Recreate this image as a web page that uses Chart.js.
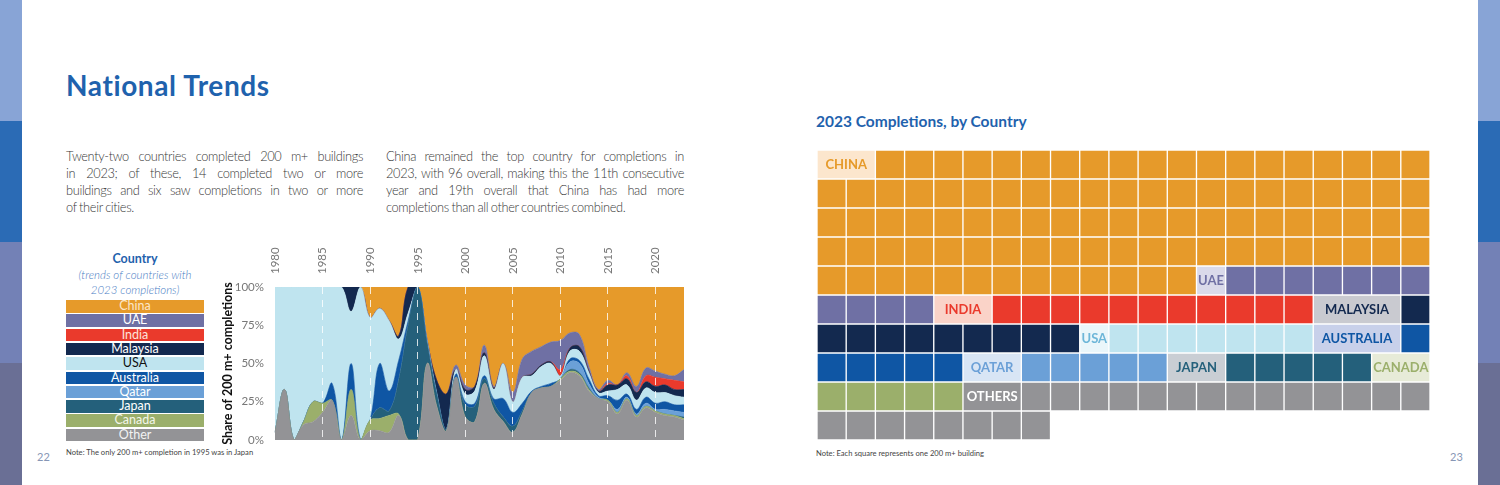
<!DOCTYPE html>
<html>
<head>
<meta charset="utf-8">
<script src="https://cdn.jsdelivr.net/npm/chart.js@4.4.1/dist/chart.umd.min.js"></script>
<style>
  html,body{margin:0;padding:0;}
  body{width:1500px;height:485px;position:relative;overflow:hidden;background:#fff;font-family:Lato,'Open Sans',sans-serif;}
  .stripe{position:absolute;width:22px;}
  #title{position:absolute;left:66px;top:68px;font-size:28px;letter-spacing:0.6px;font-weight:700;color:#1F62AD;white-space:nowrap;}
  .para{position:absolute;top:148px;font-size:12.8px;letter-spacing:-0.35px;word-spacing:-0.5px;line-height:17px;color:#383838;font-weight:300;}
  .para div{text-align:justify;text-align-last:justify;white-space:nowrap;}
  .para div.last{text-align-last:left;}
  #legTitle{position:absolute;left:66px;width:138px;top:251px;text-align:center;font-weight:700;font-size:12.5px;color:#1F62AD;}
  #legSub{position:absolute;left:56px;width:158px;top:267px;text-align:center;font-style:italic;font-size:11.5px;line-height:15px;color:#4A7DC4;font-weight:300;}
  .legRow{position:absolute;left:66px;width:138px;height:12.5px;line-height:12.5px;text-align:center;font-size:12.5px;}
  .note{position:absolute;font-size:7.6px;color:#444;white-space:nowrap;}
  .pnum{position:absolute;font-size:11px;color:#8796B5;top:450px;}
  #rightTitle{position:absolute;left:816px;top:112px;font-size:15.5px;font-weight:700;color:#1F62AD;white-space:nowrap;}
  #areaWrap{position:absolute;left:215px;top:240px;width:475px;height:205px;}
  #waffleWrap{position:absolute;left:817px;top:150px;width:613px;height:290px;}
</style>
</head>
<body>
<div class="stripe" style="left:0;top:0;height:121px;background:#88A4D6"></div>
<div class="stripe" style="left:0;top:121px;height:121px;background:#2B6BB5"></div>
<div class="stripe" style="left:0;top:242px;height:121px;background:#7381B6"></div>
<div class="stripe" style="left:0;top:363px;height:122px;background:#6A6F95"></div>
<div class="stripe" style="left:1478px;top:0;height:121px;background:#88A4D6"></div>
<div class="stripe" style="left:1478px;top:121px;height:121px;background:#2B6BB5"></div>
<div class="stripe" style="left:1478px;top:242px;height:121px;background:#7381B6"></div>
<div class="stripe" style="left:1478px;top:363px;height:122px;background:#6A6F95"></div>

<div id="title">National Trends</div>

<div class="para" style="left:66px;width:297px;">
  <div>Twenty-two countries completed 200 m+ buildings</div>
  <div>in 2023; of these, 14 completed two or more</div>
  <div>buildings and six saw completions in two or more</div>
  <div class="last">of their cities.</div>
</div>
<div class="para" style="left:386px;width:298px;">
  <div>China remained the top country for completions in</div>
  <div>2023, with 96 overall, making this the 11th consecutive</div>
  <div>year and 19th overall that China has had more</div>
  <div class="last">completions than all other countries combined.</div>
</div>

<div id="legTitle">Country</div>
<div id="legSub">(trends of countries with<br>2023 completions)</div>
<div id="legend"></div>

<div id="areaWrap"><canvas id="area" width="475" height="205"></canvas></div>

<div class="note" style="left:66px;top:447px;">Note: The only 200 m+ completion in 1995 was in Japan</div>
<div class="pnum" style="left:37px;">22</div>

<div id="rightTitle">2023 Completions, by Country</div>
<div id="waffleWrap"><canvas id="waffle" width="613" height="290"></canvas></div>
<div class="note" style="left:816px;top:448px;">Note: Each square represents one 200 m+ building</div>
<div class="pnum" style="left:1450px;">23</div>

<script>
// ---------- Data: share of 200 m+ completions (%) by year ----------
const years = [1980,1981,1982,1983,1984,1985,1986,1987,1988,1989,
               1990,1991,1992,1993,1994,1995,1996,1997,1998,1999,
               2000,2001,2002,2003,2004,2005,2006,2007,2008,2009,
               2010,2011,2012,2013,2014,2015,2016,2017,2018,2019,
               2020,2021,2022,2023];
const tickYears = [1980,1985,1990,1995,2000,2005,2010,2015,2020];
const yTicks = [0,25,50,75,100];

const shareOther     = [5,33,0,10,12,18,26,0,16,0, 6,6,5,16,0,0,50,22,6,41, 15,12,37,20,12,5,17,31,34,35, 39,44,42,32,27,25,17,26,15,21, 18,16,15,13];
const shareCanada    = [0,0,0,2,13,6,0,0,17,0, 7,8,11,1,0,0,0,0,0,0, 0,0,0,0,0,0,0,0,0,0, 1,1,1,1,0,1,1,1,1,1, 1,1,1,1];
const shareJapan     = [0,0,0,0,0,0,0,0,0,0, 0,7,3,22,75,100,13,8,1,0, 8,10,3,4,3,4,2,0,0,0, 0,1,1,1,0,0,0,0,0,0, 0,0,0,1];
const shareQatar     = [0,0,0,0,0,0,0,0,0,0, 0,0,0,0,0,0,0,0,0,0, 0,0,0,0,0,0,0,0,0,0, 0,5,6,3,1,0,2,1,1,2, 1,3,3,3];
const shareAustralia = [0,0,0,0,0,0,11,0,17,0, 0,29,13,13,3,0,0,0,0,2, 2,2,2,3,12,9,5,1,1,2, 0,2,2,3,1,3,6,2,3,4, 4,5,4,5];
const shareUSA       = [95,67,100,88,75,76,63,100,34,100, 67,36,46,14,5,0,2,1,0,3, 5,8,13,6,23,7,17,10,13,13, 2,5,6,4,2,3,7,6,6,6, 7,6,6,5];
const shareMalaysia  = [0,0,0,0,0,0,0,0,16,0, 0,0,0,2,17,0,0,8,23,0, 3,3,2,1,0,0,0,1,1,1, 0,2,3,1,1,4,3,4,5,4, 4,5,4,5];
const shareIndia     = [0,0,0,0,0,0,0,0,0,0, 0,0,0,0,0,0,0,0,0,0, 0,0,0,0,0,0,0,0,0,0, 4,0,0,0,0,1,0,2,0,4, 6,4,6,5];
const shareUAE       = [0,0,0,0,0,0,0,0,0,0, 0,0,0,0,0,0,0,0,0,3, 3,0,5,1,0,6,12,15,12,13, 19,10,8,3,1,2,0,2,4,5, 4,3,3,8];
const shareChina     = [0,0,0,0,0,0,0,0,0,0, 20,14,22,32,0,0,35,61,70,51, 64,65,38,65,50,69,47,42,39,36, 35,30,31,52,67,61,64,56,65,53, 55,57,58,54];

// Legend (top to bottom)
const legendNames  = ['China','UAE','India','Malaysia','USA','Australia','Qatar','Japan','Canada','Other'];
const legendColors = ['#E69A2A','#6F70A4','#EA3A2C','#13294F','#BFE4EF','#0F56A4','#6BA0D7','#24607B','#9BAF6B','#939396'];
const legendText   = ['#FCE7C8','#FFFFFF','#FDE3DA','#FFFFFF','#111111','#FFFFFF','#FFFFFF','#FFFFFF','#F4F6EA','#F2F2F2'];

// ---------- Waffle: 2023 completions ----------
const waffleNames   = ['CHINA','UAE','INDIA','MALAYSIA','USA','AUSTRALIA','QATAR','JAPAN','CANADA','OTHERS'];
const waffleSquares = [95,11,11,10,7,6,5,5,5,22];   // plain squares drawn
const waffleLabelSpan = [2,1,2,3,1,3,2,2,2,2];        // squares covered by the name tag
const waffleColors  = ['#E69A2A','#6F70A4','#EA3A2C','#13294F','#BFE4EF','#0F56A4','#6BA0D7','#24607B','#9BAF6B','#939396'];
const waffleTagBg   = ['#FCE6CD','#DADAEA','#FAD3C8','#C9CAD0','#EAF6FA','#C8D0EA','#D8E5F5','#C9CED4','#E7EBD8','#939396'];
const waffleTagText = ['#E69A2A','#6F70A4','#EA3A2C','#13294F','#6DB6D8','#0F56A4','#6BA0D7','#24607B','#9BAF6B','#FFFFFF'];
const waffleRows = ['1','2','3','4','5','6','7','8','9','10'];
const waffleCols = 21;

// ---------- Legend HTML ----------
const legEl = document.getElementById('legend');
legendNames.forEach((n,i)=>{
  const d = document.createElement('div');
  d.className='legRow';
  d.style.top = (300 + i*14.3) + 'px';
  d.style.background = legendColors[i];
  d.style.color = legendText[i];
  d.textContent = n;
  legEl.appendChild(d);
});

// ---------- Area chart ----------
const stackOrder = [
  ['Other', shareOther, '#939396'],
  ['Canada', shareCanada, '#9BAF6B'],
  ['Japan', shareJapan, '#24607B'],
  ['Qatar', shareQatar, '#6BA0D7'],
  ['Australia', shareAustralia, '#0F56A4'],
  ['USA', shareUSA, '#BFE4EF'],
  ['Malaysia', shareMalaysia, '#13294F'],
  ['India', shareIndia, '#EA3A2C'],
  ['UAE', shareUAE, '#6F70A4'],
  ['China', shareChina, '#E69A2A']
];
new Chart(document.getElementById('area'), {
  type:'line',
  data:{
    labels: years.map(String),
    datasets: stackOrder.map((s,i)=>({
      label:s[0], data:s[1], backgroundColor:s[2], borderColor:s[2], borderWidth:0.6,
      pointRadius:0, fill: i===0 ? 'origin' : '-1', tension:0.4
    }))
  },
  options:{
    responsive:false, animation:false,
    layout:{padding:{left:0,right:6,top:0,bottom:5}},
    plugins:{legend:{display:false}, tooltip:{enabled:false}},
    scales:{
      x:{
        type:'category', position:'top', offset:false,
        grid:{display:true, drawTicks:false, z:1, lineWidth:1,
          color:(c)=>{ const y = years[c.index]; return (tickYears.includes(y) && y>1980) ? 'rgba(255,255,255,0.8)' : 'rgba(0,0,0,0)'; }},
        border:{display:false, dash:[7,6]},
        ticks:{autoSkip:false, minRotation:90, maxRotation:90, padding:13, labelOffset:14, color:'#777',
          font:{family:'Lato', size:11.5},
          callback:(v,i)=> tickYears.includes(years[i]) ? String(years[i]) : ''},
        afterFit:(s)=>{ s.height = 47; s.paddingLeft = 0; s.paddingRight = 0; }
      },
      y:{
        stacked:true, min:0, max:100,
        grid:{display:false}, border:{display:false},
        afterBuildTicks:(s)=>{ s.ticks = yTicks.map(v=>({value:v})); },
        ticks:{callback:(v)=> v+'%', color:'#777', font:{family:'Lato', size:11.5}, padding:3},
        title:{display:true, text:'Share of 200 m+ completions', color:'#111',
          font:{family:'Lato', size:12.5, weight:'bold'}, padding:{top:5,bottom:0}},
        afterFit:(s)=>{ s.width = 60; s.paddingTop = 0; s.paddingBottom = 0; }
      }
    }
  }
});

// ---------- Waffle chart ----------
const cellDatasets = waffleNames.map((n,i)=>({label:n, data:[], backgroundColor:waffleColors[i]}));
const tagData = [];
let pos = 0;
waffleNames.forEach((n,i)=>{
  const r = Math.floor(pos / waffleCols), c = pos % waffleCols;
  tagData.push({y: waffleRows[r], x:[c, c + waffleLabelSpan[i]], k:i});
  pos += waffleLabelSpan[i];
  for (let j=0;j<waffleSquares[i];j++){
    const rr = Math.floor(pos / waffleCols), cc = pos % waffleCols;
    cellDatasets[i].data.push({y: waffleRows[rr], x:[cc, cc+1]});
    pos++;
  }
});
const tagDataset = {label:'tags', data: tagData,
  backgroundColor: (ctx)=> waffleTagBg[ctx.raw ? ctx.raw.k : 0]};

const tagPlugin = {
  id:'tagText',
  afterDatasetsDraw(chart){
    const idx = chart.data.datasets.length - 1;
    const meta = chart.getDatasetMeta(idx);
    const ctx = chart.ctx;
    ctx.save();
    ctx.font = 'bold 13px Lato, "Open Sans", sans-serif';
    ctx.textAlign = 'center';
    ctx.textBaseline = 'middle';
    meta.data.forEach((el,i)=>{
      const p = el.getProps(['x','y','base'], true);
      const k = tagData[i].k;
      ctx.fillStyle = waffleTagText[k];
      ctx.fillText(waffleNames[k], (p.x + p.base)/2, p.y + 0.5);
    });
    ctx.restore();
  }
};

new Chart(document.getElementById('waffle'), {
  type:'bar',
  data:{labels: waffleRows, datasets: [...cellDatasets, tagDataset]},
  options:{
    indexAxis:'y', responsive:false, animation:false,
    layout:{padding:0},
    plugins:{legend:{display:false}, tooltip:{enabled:false}},
    datasets:{bar:{grouped:false, barPercentage:1, categoryPercentage:1, borderColor:'#ffffff', borderWidth:1, borderSkipped:false}},
    scales:{
      x:{type:'linear', min:0, max:waffleCols, display:false},
      y:{type:'category', display:false, offset:true}
    }
  },
  plugins:[tagPlugin]
});
</script>
</body>
</html>
